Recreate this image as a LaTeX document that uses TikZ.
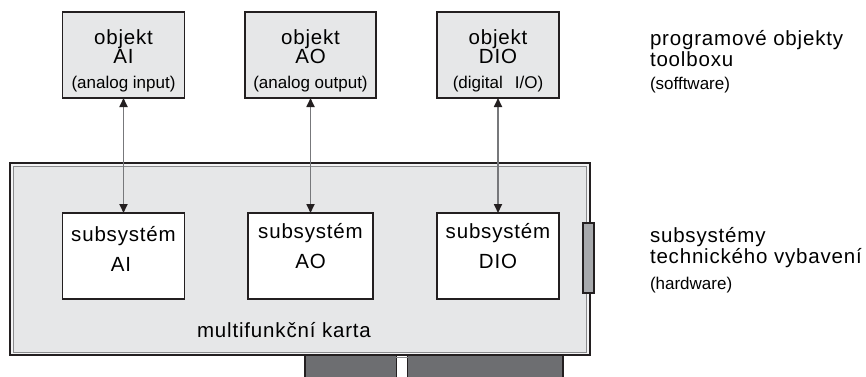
\documentclass[tikz,border=0pt]{standalone}
\usepackage{fontspec}
\setmainfont{Liberation Sans}
\newfontfamily\trackedfont{Liberation Sans}[LetterSpace=4]
\usetikzlibrary{arrows.meta}

\definecolor{ink}{HTML}{231F20}
\definecolor{panel}{HTML}{E6E7E8}
\definecolor{bevel}{HTML}{F4F4F5}
\definecolor{bevelline}{HTML}{8A8B8D}
\definecolor{plug}{HTML}{6D6E71}
\definecolor{bracket}{HTML}{A7A9AC}
\definecolor{linkgrey}{HTML}{77787B}

\begin{document}
\begin{tikzpicture}[x=1pt,y=-1pt,
  every node/.style={inner sep=0pt, outer sep=0pt},
  objbox/.style={draw=ink, line width=1.6pt, fill=panel, minimum height=86pt},
  subbox/.style={draw=ink, line width=1.6pt, fill=white, minimum height=86pt},
  big/.style={font=\trackedfont\fontsize{20.5}{20.5}\selectfont, anchor=base},
  small/.style={font=\fontsize{17}{17}\selectfont, anchor=base},
  link/.style={draw=linkgrey, line width=1.7pt,
    {Triangle[length=9pt,width=8pt,color=ink]}-{Triangle[length=9pt,width=8pt,color=ink]}},
]
\useasboundingbox (0,0) rectangle (866,376);

% edge connector of the card
\fill[plug] (305,356) rectangle (563,378);
\draw[ink, line width=1.3pt] (305,356) -- (305,378);
\draw[ink, line width=1.3pt] (563,356) -- (563,378);
\fill[white] (396,354) rectangle (408,378);
\draw[ink, line width=1.5pt] (396.5,354) -- (396.5,378);
\draw[ink, line width=1.5pt] (407.5,354) -- (407.5,378);
\draw[bevelline, line width=1pt] (396,357) -- (408,357);

% the card itself, with its bevelled rim
\draw[ink, line width=1.7pt, fill=bevel] (10,163) rectangle (590,355);
\draw[bevelline, line width=0.9pt, fill=panel] (13.5,166) rectangle (586.5,352);

% mounting bracket on the right
\draw[ink, line width=1.4pt, fill=bracket] (583,223) rectangle (594,293);

% software objects
\node[objbox, minimum width=122pt] (objAI)  at (123.5,55) {};
\node[objbox, minimum width=131pt] (objAO)  at (310.5,55) {};
\node[objbox, minimum width=122pt] (objDIO) at (498,55) {};

\node[big]   (objAIa)  at (123.5,44) {objekt};
\node[big]   (objAIb)  at (123.5,63) {AI};
\node[small] (objAIc)  at (123.5,88) {(analog input)};
\node[big]   (objAOa)  at (310.5,44) {objekt};
\node[big]   (objAOb)  at (310.5,63) {AO};
\node[small] (objAOc)  at (310.5,88) {(analog output)};
\node[big]   (objDIOa) at (498,44) {objekt};
\node[big]   (objDIOb) at (498,63) {DIO};
\node[small] (objDIOc) at (498,88) {(digital\hspace{12pt}I/O)};

% hardware subsystems
\node[subbox, minimum width=122pt] (subAI)  at (123.5,256) {};
\node[subbox, minimum width=125pt] (subAO)  at (310.5,256) {};
\node[subbox, minimum width=122pt] (subDIO) at (498,256) {};

\node[big] (subAIa)  at (123.5,241) {subsystém};
\node[big] (subAIb)  at (121,271) {AI};
\node[big] (subAOa)  at (310.5,238) {subsystém};
\node[big] (subAOb)  at (310.5,268) {AO};
\node[big] (subDIOa) at (498,238) {subsystém};
\node[big] (subDIOb) at (498,268) {DIO};

\node[big] (cardname) at (284,337) {multifunkční karta};

% links between objects and subsystems
\draw[link] (objAI.south)  -- (subAI.north);
\draw[link] (objAO.south)  -- (subAO.north);
\draw[link] (objDIO.south) -- (subDIO.north);

% legend on the right
\node[big, anchor=base west]   (swa) at (650,45) {programové objekty};
\node[big, anchor=base west]   (swb) at (650,66) {toolboxu};
\node[small, anchor=base west] (swc) at (650,89) {(sofftware)};
\node[big, anchor=base west]   (hwa) at (650,242) {subsystémy};
\node[big, anchor=base west]   (hwb) at (650,263) {technického vybavení};
\node[small, anchor=base west] (hwc) at (650,289) {(hardware)};
\end{tikzpicture}
\end{document}
